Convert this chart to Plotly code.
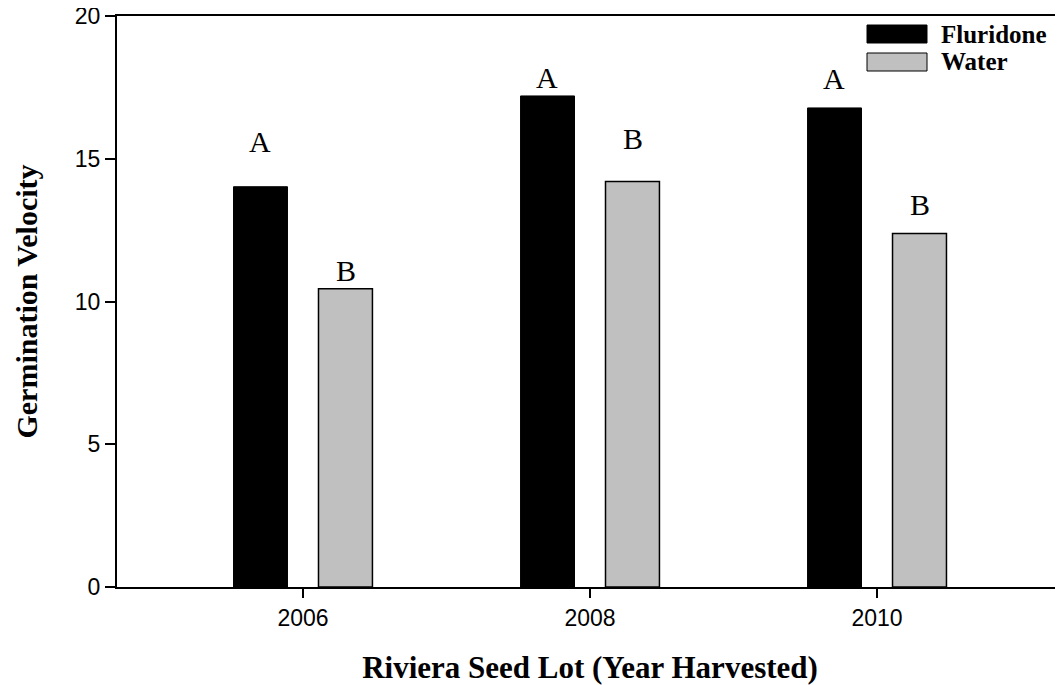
import plotly.graph_objects as go

years = ["2006", "2008", "2010"]
fluridone = [14.02, 17.2, 16.78]
water = [10.45, 14.2, 12.38]

# letters of significance and where they sit (y in data units)
letters_flu = ["A", "A", "A"]
letters_flu_y = [15.6, 17.85, 17.8]
letters_wat = ["B", "B", "B"]
letters_wat_y = [11.1, 15.7, 13.4]

fig = go.Figure()
fig.add_trace(go.Bar(x=years, y=fluridone, name="Fluridone",
                     marker=dict(color="black", line=dict(color="black", width=1))))
fig.add_trace(go.Bar(x=years, y=water, name="Water",
                     marker=dict(color="#c0c0c0", line=dict(color="black", width=1.5))))

SERIF = "Liberation Serif, Times New Roman, serif"
SANS = "Liberation Sans, Arial, sans-serif"

for i in range(len(years)):
    fig.add_annotation(x=i, y=letters_flu_y[i], text=letters_flu[i], xshift=-43,
                       showarrow=False, font=dict(family=SERIF, size=30, color="black"))
    fig.add_annotation(x=i, y=letters_wat_y[i], text=letters_wat[i], xshift=43,
                       showarrow=False, font=dict(family=SERIF, size=30, color="black"))

# hand-drawn legend (bigger swatches than plotly's)
legend_items = [("Fluridone", "black"), ("Water", "#c0c0c0")]
for k, (name, col) in enumerate(legend_items):
    y0 = 1 - (9 + 28 * k) / 571
    y1 = y0 - 18 / 571
    fig.add_shape(type="rect", xref="paper", yref="paper",
                  x0=(867 - 117) / 946, x1=(927 - 117) / 946, y0=y1, y1=y0,
                  fillcolor=col, line=dict(color="black", width=1))
    fig.add_annotation(xref="paper", yref="paper", x=(939 - 117) / 946, y=(y0 + y1) / 2,
                       text="<b>" + name + "</b>", showarrow=False,
                       xanchor="left", yanchor="middle",
                       font=dict(family=SERIF, size=25, color="black"))

# page body has an 8px margin, so the figure is shrunk by that much
fig.update_layout(
    width=1055, height=677,
    margin=dict(l=109, r=0, t=8, b=98),
    plot_bgcolor="white", paper_bgcolor="white",
    barmode="group", bargap=0.408, bargroupgap=0.365,
    showlegend=False,
    font=dict(family=SANS, size=23, color="black"),
)
fig.update_xaxes(
    type="category", automargin=False,
    range=[-0.648, 2.648], showgrid=False, showline=True, linecolor="black", linewidth=2,
    mirror=True, ticks="outside", ticklen=9, tickwidth=2, tickcolor="black",
    tickfont=dict(family=SANS, size=23),
    title=dict(text="<b>Riviera Seed Lot (Year Harvested)</b>", standoff=30,
               font=dict(family=SERIF, size=31)),
)
fig.update_yaxes(
    automargin=False,
    range=[0, 20], tickvals=[0, 5, 10, 15, 20], showgrid=False, zeroline=False,
    showline=True, linecolor="black", linewidth=2, ticks="outside", ticklen=10,
    tickwidth=2, tickcolor="black", tickfont=dict(family=SANS, size=23),
    ticklabeloverflow="allow",
    title=dict(text="<b>Germination Velocity</b>", standoff=28,
               font=dict(family=SERIF, size=30)),
)

fig.write_html("out.html")
